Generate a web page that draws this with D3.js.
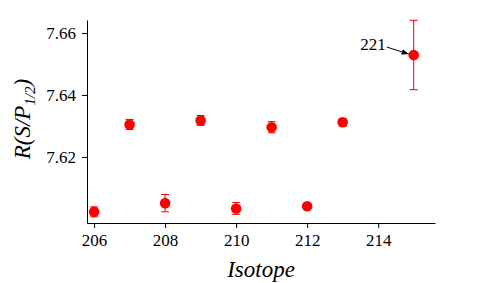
<!DOCTYPE html>
<html>
<head>
<meta charset="utf-8">
<script src="https://cdn.jsdelivr.net/npm/d3@7"></script>
<style>
  body { margin: 0; background: #fff; }
  svg text { font-family: "Liberation Serif", "Times New Roman", serif; }
</style>
</head>
<body>
<svg id="chart" width="477" height="283"></svg>
<script>
// data
var isotopes = [206, 207, 208, 209, 210, 211, 212, 213, 215]
var ratios   = [7.6023, 7.6305, 7.6051, 7.6318, 7.6034, 7.6296, 7.6041, 7.6312, 7.6529]
var errors   = [0.0016, 0.0016, 0.0028, 0.0016, 0.0019, 0.0018, 0.0010, 0.0012, 0.0112]
var xTicks = [206, 208, 210, 212, 214]
var yTicks = [7.62, 7.64, 7.66]

var svg = d3.select("#chart")

var x = d3.scaleLinear().domain([205.8, 215.6]).range([87, 435])
var y = d3.scaleLinear().domain([7.5987, 7.6642]).range([223, 20])

svg.append("g")
    .attr("transform", "translate(0,223)")
    .call(d3.axisBottom(x).tickValues(xTicks).tickSize(5).tickPadding(6).tickSizeOuter(0))
svg.append("g")
    .attr("transform", "translate(87,0)")
    .call(d3.axisLeft(y).tickValues(yTicks).tickFormat(d3.format(".2f")).tickSize(5).tickPadding(6).tickSizeOuter(0))

svg.selectAll("g.tick")
    .attr("font-family", null)
svg.selectAll("g").attr("font-family", "Liberation Serif").attr("font-size", 17)
svg.selectAll(".tick text").attr("fill", "#000")
svg.selectAll(".domain, .tick line").attr("stroke", "#000")

var pts = isotopes.map(function(d, i) { return {x: d, v: ratios[i], e: errors[i]} })

// error bars
var eb = svg.append("g").selectAll("g.err")
    .data(pts)
    .join("g")
    .classed("err", true)
    .attr("stroke", "#e00")
    .attr("stroke-width", 1)
eb.append("line")
    .attr("x1", d => x(d.x)).attr("x2", d => x(d.x))
    .attr("y1", d => y(d.v - d.e)).attr("y2", d => y(d.v + d.e))
eb.append("line")
    .attr("x1", d => x(d.x) - 4).attr("x2", d => x(d.x) + 4)
    .attr("y1", d => y(d.v - d.e)).attr("y2", d => y(d.v - d.e))
eb.append("line")
    .attr("x1", d => x(d.x) - 4).attr("x2", d => x(d.x) + 4)
    .attr("y1", d => y(d.v + d.e)).attr("y2", d => y(d.v + d.e))

svg.append("g").selectAll("circle")
    .data(pts)
    .join("circle")
    .attr("cx", d => x(d.x))
    .attr("cy", d => y(d.v))
    .attr("r", 5.3)
    .attr("fill", "#f00")

// annotation for 221
var last = pts[pts.length - 1]
svg.append("defs").append("marker")
    .attr("id", "arr")
    .attr("viewBox", "0 0 10 10")
    .attr("refX", 10).attr("refY", 5)
    .attr("markerWidth", 7).attr("markerHeight", 7)
    .attr("orient", "auto")
    .append("path").attr("d", "M0,1 L10,5 L0,9 z").attr("fill", "#000")
svg.append("line")
    .attr("x1", x(last.x) - 27).attr("y1", y(last.v) - 8)
    .attr("x2", x(last.x) - 5).attr("y2", y(last.v) - 1)
    .attr("stroke", "#000")
    .attr("stroke-width", 1)
    .attr("marker-end", "url(#arr)")
svg.append("text")
    .attr("x", x(last.x) - 28).attr("y", y(last.v) - 5)
    .attr("text-anchor", "end")
    .style("font-size", "17px")
    .text("221")

// axis titles
svg.append("text")
    .attr("x", 261).attr("y", 277)
    .attr("text-anchor", "middle")
    .style("font-size", "23px")
    .style("font-style", "italic")
    .text("Isotope")

var yl = svg.append("text")
    .attr("transform", "translate(30,119) rotate(-90)")
    .attr("text-anchor", "middle")
    .style("font-size", "23px")
    .style("font-style", "italic")
yl.append("tspan").text("R(S/P")
yl.append("tspan").attr("dy", 5).style("font-size", "15px").text("1/2")
yl.append("tspan").attr("dy", -5).text(")")
</script>
</body>
</html>
